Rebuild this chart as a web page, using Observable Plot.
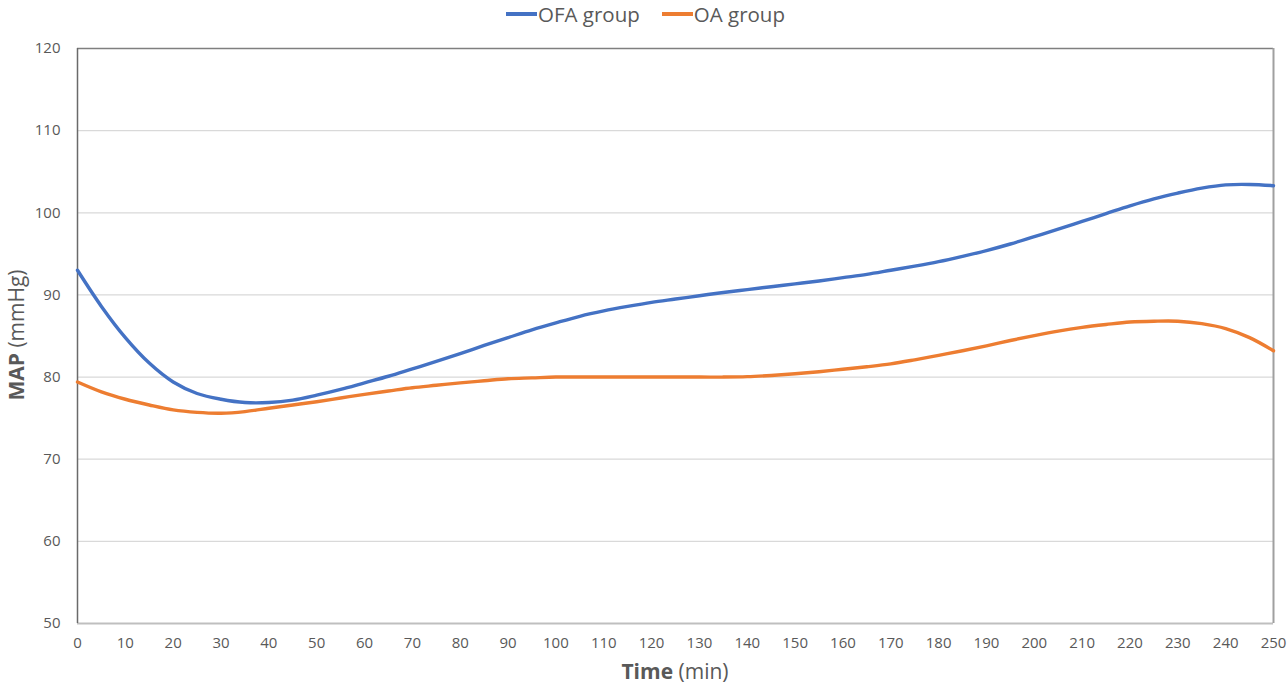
<!DOCTYPE html>
<html>
<head>
<meta charset="utf-8">
<script src="https://cdn.jsdelivr.net/npm/d3@7"></script>
<script src="https://cdn.jsdelivr.net/npm/@observablehq/plot@0.6"></script>
<style>
  html, body { margin: 0; padding: 0; background: #fff; }
  body { width: 1287px; height: 686px; overflow: hidden; font-family: "Open Sans", "Noto Sans", sans-serif; }
  #legend { height: 28px; display: flex; justify-content: center; align-items: center; gap: 22px; font-size: 20.5px; color: #595959; padding-left: 4px; }
  #legend .item { display: flex; align-items: center; }
  #legend .sw { display: inline-block; width: 31px; height: 4px; margin-right: 1px; }
</style>
</head>
<body>
<div id="legend"></div>
<div id="chart"></div>
<script>
const seriesNames = ["OFA group", "OA group"];
const seriesColors = ["#4472C4", "#ED7D31"];
const times = [0,5,10,15,20,25,30,35,40,45,50,55,60,65,70,75,80,85,90,95,100,105,110,115,120,125,130,135,140,145,150,155,160,165,170,175,180,185,190,195,200,205,210,215,220,225,230,235,240,245,250];
const ofaValues = [93.0,88.6,84.8,81.7,79.4,78.0,77.3,76.9,76.9,77.2,77.8,78.5,79.3,80.1,81.0,81.9,82.85,83.85,84.8,85.75,86.6,87.4,88.05,88.6,89.1,89.5,89.9,90.3,90.65,91.0,91.35,91.7,92.1,92.5,93.0,93.5,94.05,94.7,95.4,96.2,97.1,98.0,98.95,99.9,100.85,101.7,102.4,103.0,103.4,103.45,103.3];
const oaValues = [79.4,78.2,77.3,76.6,76.0,75.7,75.6,75.8,76.2,76.6,77.0,77.45,77.9,78.3,78.7,79.0,79.3,79.55,79.8,79.9,80.0,80.0,80.0,80.0,80.0,80.0,80.0,80.0,80.05,80.2,80.4,80.65,80.95,81.25,81.6,82.1,82.65,83.2,83.8,84.45,85.05,85.6,86.05,86.4,86.7,86.8,86.8,86.5,85.9,84.8,83.2];
const xTicks = d3.range(0, 251, 10);
const yTicks = [50,60,70,80,90,100,110,120];

const data = [];
times.forEach((t, i) => {
  data.push({time: t, map: ofaValues[i], group: seriesNames[0]});
  data.push({time: t, map: oaValues[i], group: seriesNames[1]});
});

// legend
const legend = document.getElementById("legend");
seriesNames.forEach((n, i) => {
  const it = document.createElement("span");
  it.className = "item";
  it.innerHTML = `<span class="sw" style="background:${seriesColors[i]}"></span>${n}`;
  legend.appendChild(it);
});

const chart = Plot.plot({
  width: 1287,
  height: 658,
  marginTop: 20,
  marginBottom: 63,
  marginLeft: 77,
  marginRight: 14,
  style: {fontFamily: "'Open Sans', 'Noto Sans', sans-serif", fontSize: "15px", color: "#595959", background: "#fff"},
  x: {domain: [0, 250], ticks: xTicks, tickSize: 0, tickPadding: 14, label: null},
  y: {domain: [50, 120], ticks: yTicks, tickSize: 0, tickPadding: 17, label: null},
  color: {domain: seriesNames, range: seriesColors},
  marks: [
    Plot.gridY(yTicks.filter(v => v > 50 && v < 120), {stroke: "#d9d9d9", strokeOpacity: 1, strokeWidth: 1.3}),
    Plot.ruleY([50], {stroke: "#bfbfbf", strokeWidth: 2}),
    Plot.ruleY([120], {stroke: "#7f7f7f", strokeWidth: 1.5}),
    Plot.ruleX([250], {stroke: "#a0a0a0", strokeWidth: 2}),
    Plot.ruleX([0], {stroke: "#6a6a6a", strokeWidth: 1.5}),
    Plot.axisX({ticks: xTicks, tickSize: 0, tickPadding: 14, fill: "#595959", fontSize: 15}),
    Plot.axisY({ticks: yTicks, tickSize: 0, tickPadding: 17, fill: "#595959", fontSize: 15}),
    Plot.line(data, {x: "time", y: "map", stroke: "group", strokeWidth: 3.4, curve: "catmull-rom"})
  ]
});
document.getElementById("chart").appendChild(chart);

// axis titles with mixed weight
const svg = d3.select(chart);
const xt = svg.append("text")
  .attr("x", 675).attr("y", 651)
  .attr("text-anchor", "middle")
  .attr("fill", "#595959")
  .style("font-size", "21px");
xt.append("tspan").attr("font-weight", "bold").text("Time");
xt.append("tspan").text(" (min)");

const yt = svg.append("text")
  .attr("transform", "translate(24,307) rotate(-90)")
  .attr("text-anchor", "middle")
  .attr("fill", "#595959")
  .style("font-size", "21px");
yt.append("tspan").attr("font-weight", "bold").text("MAP");
yt.append("tspan").text(" (mmHg)");
</script>
</body>
</html>
